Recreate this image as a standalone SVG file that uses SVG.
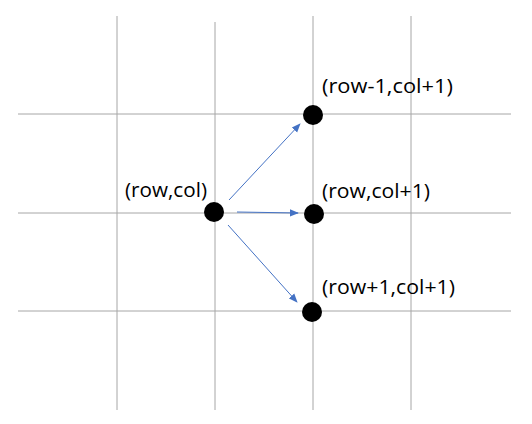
<svg xmlns="http://www.w3.org/2000/svg" width="532" height="424" viewBox="0 0 532 424">
<defs>
<style>
.grid{stroke:#a6a6a6;stroke-width:1;fill:none}
.dot{fill:#000}
.lbl{font-family:"Open Sans","Liberation Sans",sans-serif;font-size:20.5px;fill:#000}
.arr{stroke:#4472c4;stroke-width:1;fill:none;marker-end:url(#ah)}
</style>
<marker id="ah" viewBox="0 0 10 10" refX="9" refY="5" markerWidth="9" markerHeight="9" markerUnits="userSpaceOnUse" orient="auto">
<path d="M0,1 L10,5 L0,9 z" fill="#4472c4"/>
</marker>
</defs>
<rect width="532" height="424" fill="#fff"/>
<g id="grid">
<line class="grid" x1="117" y1="16" x2="117" y2="410"/>
<line class="grid" x1="215" y1="22" x2="215" y2="410"/>
<line class="grid" x1="313" y1="16" x2="313" y2="410"/>
<line class="grid" x1="411" y1="16" x2="411" y2="410"/>
<line class="grid" x1="18" y1="114" x2="511" y2="114"/>
<line class="grid" x1="18" y1="213" x2="511" y2="213"/>
<line class="grid" x1="18" y1="311" x2="511" y2="311"/>
</g>
<g id="connectors">
<line class="arr" x1="229" y1="200" x2="300" y2="124"/>
<line class="arr" x1="237" y1="212" x2="298" y2="213"/>
<line class="arr" x1="228" y1="225" x2="297" y2="302"/>
</g>
<g id="n-rowcol"><circle class="dot" cx="214" cy="212" r="10"/><text class="lbl" x="125" y="197" textLength="82" lengthAdjust="spacingAndGlyphs">(row,col)</text></g>
<g id="n-up"><circle class="dot" cx="313" cy="115" r="10"/><text class="lbl" x="322" y="93" textLength="131" lengthAdjust="spacingAndGlyphs">(row-1,col+1)</text></g>
<g id="n-right"><circle class="dot" cx="314" cy="214" r="10"/><text class="lbl" x="322" y="198" textLength="108" lengthAdjust="spacingAndGlyphs">(row,col+1)</text></g>
<g id="n-down"><circle class="dot" cx="312" cy="312" r="10"/><text class="lbl" x="322" y="294" textLength="133" lengthAdjust="spacingAndGlyphs">(row+1,col+1)</text></g>
</svg>
